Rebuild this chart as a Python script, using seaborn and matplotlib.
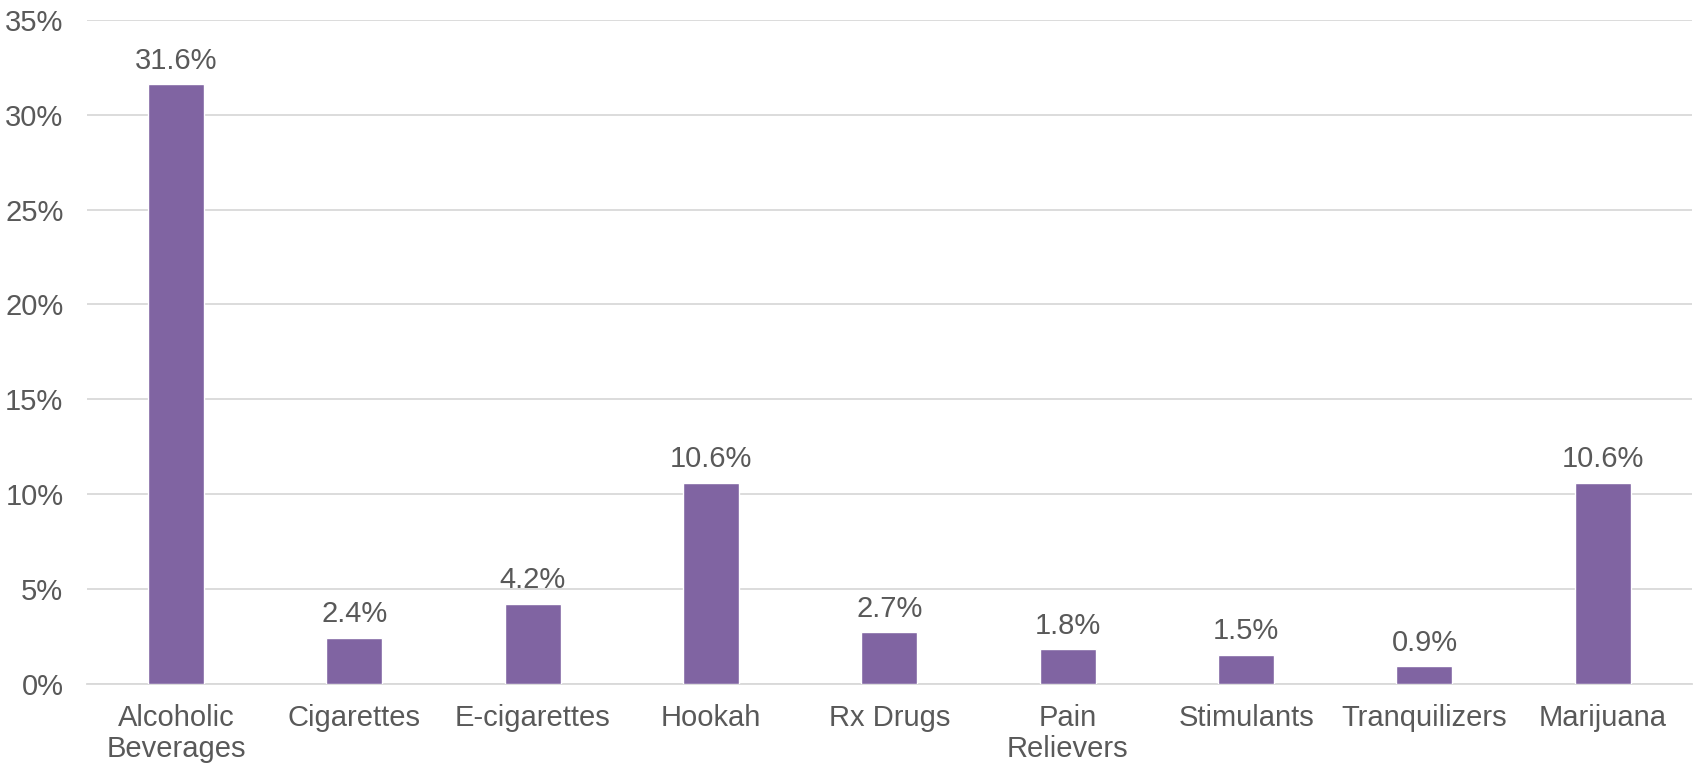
import matplotlib
matplotlib.use("Agg")
import matplotlib.pyplot as plt
from matplotlib.ticker import FuncFormatter, MultipleLocator
import seaborn as sns
import pandas as pd

categories = ["Alcoholic\nBeverages", "Cigarettes", "E-cigarettes", "Hookah", "Rx Drugs",
              "Pain\nRelievers", "Stimulants", "Tranquilizers", "Marijuana"]
values = [31.6, 2.4, 4.2, 10.6, 2.7, 1.8, 1.5, 0.9, 10.6]

sns.set_theme(style="white")
plt.rcParams["font.family"] = ["Liberation Sans", "DejaVu Sans"]

text_color = "#595959"
bar_color = "#8064A2"
grid_color = "#D9D9D9"

df = pd.DataFrame({"category": categories, "value": values})

fig = plt.figure(figsize=(16.96, 7.68), dpi=100)
ax = fig.add_axes([0.0513, 0.110, 0.9463, 0.864])

sns.barplot(data=df, x="category", y="value", color=bar_color, saturation=1,
            width=0.314, ax=ax, zorder=3)

ax.set_ylim(0, 35)
ax.yaxis.set_major_locator(MultipleLocator(5))
ax.yaxis.set_major_formatter(FuncFormatter(lambda v, p: f"{v:.0f}%"))
ax.grid(axis="y", color=grid_color, linewidth=1.3, zorder=0)
ax.set_axisbelow(True)
for s in ["top", "right", "left"]:
    ax.spines[s].set_visible(False)
ax.spines["bottom"].set_color(grid_color)
ax.spines["bottom"].set_linewidth(1.3)

ax.set_xlabel("")
ax.set_ylabel("")
ax.tick_params(axis="both", length=0, labelsize=21, colors=text_color)
ax.tick_params(axis="x", pad=15)
ax.tick_params(axis="y", pad=17)
for lbl in ax.get_xticklabels():
    lbl.set_linespacing(1.12)

for container in ax.containers:
    ax.bar_label(container, labels=[f"{v:.1f}%" for v in values], padding=7,
                 fontsize=21, color=text_color)

fig.savefig("out.png", dpi=100, facecolor="white")
